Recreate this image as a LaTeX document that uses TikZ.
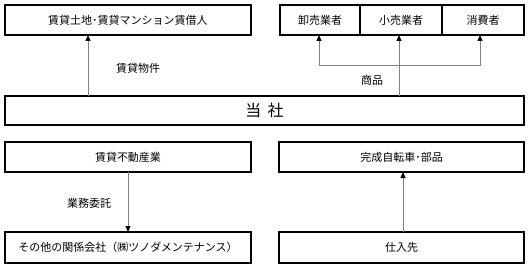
\documentclass[tikz,border=0pt]{standalone}
\usepackage{fontspec}
\setmainfont{Noto Sans CJK JP}
\usetikzlibrary{arrows.meta}
\begin{document}
\begin{tikzpicture}[x=1pt,y=-1pt,
  box/.style={draw=black,line width=1.4pt,rectangle,inner sep=0pt,outer sep=0pt,font=\fontsize{11}{13}\selectfont},
  conn/.style={draw=black!50,line width=1pt},
  arr/.style={conn,-{Triangle[length=6pt,width=5pt,color=black]}},
  lbl/.style={font=\fontsize{11}{13}\selectfont,inner sep=0pt}]
\useasboundingbox (0,0) rectangle (531,270);
% top row
\node[box,minimum width=246pt,minimum height=30pt] (tl) at (128,20) {賃貸土地･賃貸マンション賃借人};
\node[box,minimum width=80pt,minimum height=30pt] (tr1) at (320,20) {卸売業者};
\node[box,minimum width=82pt,minimum height=30pt] (tr2) at (401,20) {小売業者};
\node[box,minimum width=82pt,minimum height=30pt] (tr3) at (483,20) {消費者};
% main
\node[box,minimum width=519pt,minimum height=29pt,font=\fontsize{16}{18}\selectfont] (main) at (264.5,110.5) {当\hspace{0.4em}社};
% bottom rows
\node[box,minimum width=246pt,minimum height=30pt] (bl1) at (128,157) {賃貸不動産業};
\node[box,minimum width=246pt,minimum height=31pt] (bl2) at (128,247.5) {その他の関係会社（㈱ツノダメンテナンス）};
\node[box,minimum width=245pt,minimum height=30pt] (br1) at (401.5,157) {完成自転車･部品};
\node[box,minimum width=245pt,minimum height=31pt] (br2) at (401.5,247.5) {仕入先};
% connector positions
\coordinate (xa) at (88,0);
\coordinate (xb) at (399,0);
\coordinate (j1) at (319,66);
\coordinate (j3) at (480,66);
\coordinate (xc) at (128,0);
\coordinate (xd) at (403,0);
% connectors
\draw[arr] (main.north -| xa) -- (tl.south -| xa);
\draw[arr] (main.north -| xb) -- (tr2.south -| xb);
\draw[conn] (j1) -- (j3);
\draw[arr] (j1) -- (tr1.south -| j1);
\draw[arr] (j3) -- (tr3.south -| j3);
\draw[arr] (bl1.south -| xc) -- (bl2.north -| xc);
\draw[arr] (br2.north -| xd) -- (br1.south -| xd);
% labels
\node[lbl] (l1) at (138,68) {賃貸物件};
\node[lbl] (l2) at (372,80) {商品};
\node[lbl] (l3) at (89,203) {業務委託};
\end{tikzpicture}
\end{document}
